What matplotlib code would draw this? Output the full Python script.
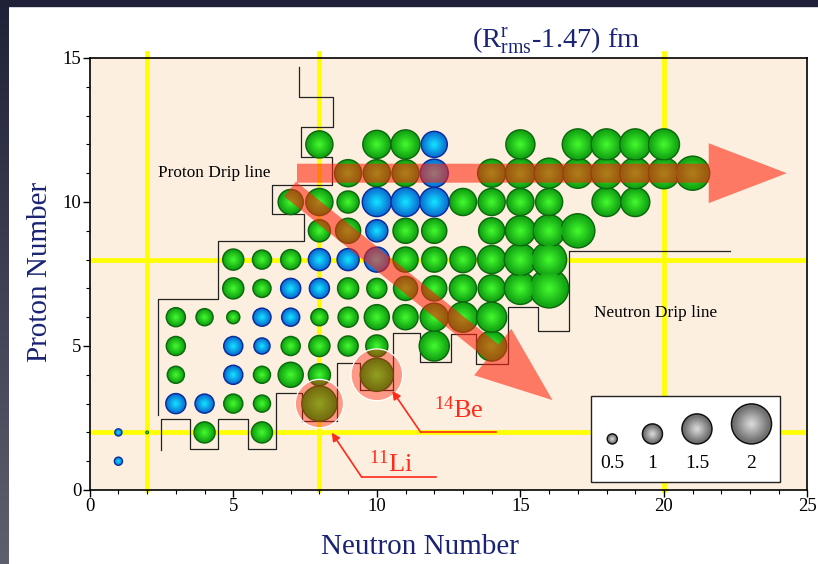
import numpy as np
import matplotlib
matplotlib.use("Agg")
import matplotlib.pyplot as plt
from matplotlib.patches import Circle, FancyArrow, Rectangle
from matplotlib.colors import to_rgb

plt.rcParams["font.family"] = ["Liberation Serif", "DejaVu Serif"]
plt.rcParams["mathtext.fontset"] = "custom"
plt.rcParams["mathtext.rm"] = "Liberation Serif"
plt.rcParams["mathtext.it"] = "Liberation Serif:italic"

# nuclei drawn in green: neutron number, proton number, (R_rms - 1.47) fm
green_n = [2, 4, 6,
           5, 6, 8,
           3, 6, 7, 8, 10,
           3, 7, 8, 9, 10, 12, 14,
           3, 4, 5, 8, 9, 10, 11, 12, 13, 14,
           5, 6, 9, 10, 11, 12, 13, 14, 15, 16,
           5, 6, 7, 11, 12, 13, 14, 15, 16,
           8, 9, 11, 12, 14, 15, 16, 17,
           7, 8, 9, 13, 14, 15, 16, 18, 19,
           9, 10, 11, 14, 15, 16, 17, 18, 19, 20, 21,
           8, 10, 11, 15, 17, 18, 19, 20]
green_z = [2, 2, 2,
           3, 3, 3,
           4, 4, 4, 4, 4,
           5, 5, 5, 5, 5, 5, 5,
           6, 6, 6, 6, 6, 6, 6, 6, 6, 6,
           7, 7, 7, 7, 7, 7, 7, 7, 7, 7,
           8, 8, 8, 8, 8, 8, 8, 8, 8,
           9, 9, 9, 9, 9, 9, 9, 9,
           10, 10, 10, 10, 10, 10, 10, 10, 10,
           11, 11, 11, 11, 11, 11, 11, 11, 11, 11, 11,
           12, 12, 12, 12, 12, 12, 12, 12]
green_r = [0.12, 1.05, 1.05,
           0.95, 0.85, 1.75,
           0.85, 0.85, 1.25, 1.1, 1.65,
           0.95, 0.95, 1.05, 1.0, 1.1, 1.5, 1.5,
           0.95, 0.85, 0.65, 0.85, 1.0, 1.25, 1.25, 1.4, 1.5, 1.5,
           1.05, 0.9, 1.05, 1.0, 1.2, 1.25, 1.35, 1.35, 1.6, 1.95,
           1.05, 0.95, 1.0, 1.25, 1.25, 1.3, 1.4, 1.6, 1.75,
           1.1, 1.25, 1.25, 1.25, 1.3, 1.5, 1.6, 1.7,
           1.25, 1.35, 1.1, 1.35, 1.35, 1.35, 1.35, 1.45, 1.45,
           1.35, 1.35, 1.35, 1.4, 1.5, 1.5, 1.5, 1.55, 1.55, 1.55, 1.7,
           1.35, 1.4, 1.45, 1.45, 1.55, 1.55, 1.55, 1.55]

# nuclei drawn in blue
blue_n = [1, 1, 3, 4, 5, 5, 6, 6, 7, 7, 8, 8, 9, 10, 10, 10, 11, 12, 12, 12]
blue_z = [1, 2, 3, 3, 4, 5, 5, 6, 6, 7, 7, 8, 8, 8, 9, 10, 10, 10, 11, 12]
blue_r = [0.4, 0.35, 1.0, 0.95, 0.95, 0.95, 0.8, 0.9, 0.9, 1.0, 1.0, 1.1, 1.1,
          1.25, 1.1, 1.45, 1.45, 1.45, 1.4, 1.3]

legend_vals = [0.5, 1, 1.5, 2]
legend_n = [18.2, 19.6, 21.15, 23.05]

# drip lines (stepped borders)
proton_drip_n = [7.3, 7.3, 8.47, 8.47, 7.35, 7.35, 8.43, 8.43, 6.35, 6.35, 7.46,
                 7.46, 4.47, 4.47, 2.38, 2.38]
proton_drip_z = [14.7, 13.65, 13.65, 12.6, 12.6, 11.55, 11.55, 10.6, 10.6, 9.58,
                 9.58, 8.65, 8.65, 6.63, 6.63, 2.6]
neutron_drip_n = [2.5, 2.5, 3.49, 3.49, 4.47, 4.47, 5.5, 5.5, 6.5, 6.5, 7.4, 7.4,
                  8.6, 8.6, 9.4, 9.4, 10.55, 10.55, 11.5, 11.5, 12.6, 12.6, 13.44,
                  13.44, 14.57, 14.57, 15.6, 15.6, 16.7, 16.7, 22.3]
neutron_drip_z = [1.39, 2.47, 2.47, 1.42, 1.42, 2.47, 2.47, 1.42, 1.42, 3.37, 3.37,
                  2.4, 2.4, 4.4, 4.4, 3.47, 3.47, 5.45, 5.45, 4.43, 4.43, 5.42,
                  5.42, 4.38, 4.38, 6.37, 6.37, 5.53, 5.53, 8.3, 8.3]

magic = [2, 8, 20]

PX = 20 * 0.72  # bubble diameter in points per fm


def bubbles(ax, n, z, v, edge, rim, core, zorder):
    d = PX * np.asarray(v, dtype=float)
    rim = np.array(to_rgb(rim))
    core = np.array(to_rgb(core))
    ax.scatter(n, z, s=d ** 2, color=rim, edgecolors=edge, linewidths=1.1,
               zorder=zorder)
    steps = 9
    for k, f in enumerate(np.linspace(0.82, 0.12, steps)):
        t = (k + 1) / steps
        col = (1 - t) * rim + t * core
        ax.scatter(n, z, s=(d * f) ** 2, color=col, edgecolors="none",
                   zorder=zorder + 0.01 * (k + 1))


fig = plt.figure(figsize=(8.18, 5.64), dpi=100, facecolor="white")

# dark slide frame
strip = fig.add_axes([0, 0, 9 / 818, 1])
grad = np.linspace(0, 1, 256).reshape(-1, 1)
strip.imshow(grad, aspect="auto", cmap=matplotlib.colors.LinearSegmentedColormap.from_list(
    "frame", ["#1f2138", "#5e5f6e"]), extent=[0, 1, 0, 1], origin="upper")
strip.axis("off")
fig.patches.append(Rectangle((0, 1 - 6 / 564), 1, 6 / 564, transform=fig.transFigure,
                             color="#1f2138", zorder=10))

ax = fig.add_axes([89.7 / 818, 1 - 490 / 564, 717.8 / 818, 432 / 564])
ax.set_facecolor("#fcefdf")
ax.set_xlim(0, 25)
ax.set_ylim(0, 15)

for m in magic:
    ax.axvline(m, ymin=0, ymax=1.012, color="#ffff00", lw=3.4, zorder=1, clip_on=False)
for m in magic[:2]:
    ax.axhline(m, color="#ffff00", lw=3.4, zorder=1)

ax.plot(proton_drip_n, proton_drip_z, color="#222222", lw=0.9, zorder=2)
ax.plot(neutron_drip_n, neutron_drip_z, color="#222222", lw=0.9, zorder=2)

bubbles(ax, green_n, green_z, green_r, "#0b6a0b", "#14a814", "#40f42c", 3)
bubbles(ax, blue_n, blue_z, blue_r, "#0a2c9c", "#0a78d6", "#12dcff", 3)

# trend arrows
red = "#ff240c"
ax.add_patch(FancyArrow(7.22, 11, 17.06, 0, width=0.66, head_width=2.08,
                        head_length=2.72, length_includes_head=True,
                        color=red, alpha=0.58, lw=0, zorder=5))
ax.add_patch(FancyArrow(6.98, 10.45, 9.14, -7.33, width=0.66, head_width=2.07,
                        head_length=2.67, length_includes_head=True,
                        color=red, alpha=0.58, lw=0, zorder=5))

# halo nuclei
ax.add_patch(Circle((8, 3), 0.84, facecolor=red, alpha=0.42, edgecolor="none", zorder=6))
ax.add_patch(Circle((8, 3), 0.84, facecolor="none", edgecolor="white", lw=0.9, zorder=6))
ax.add_patch(Circle((10, 4), 0.9, facecolor=red, alpha=0.42, edgecolor="none", zorder=6))
ax.add_patch(Circle((10, 4), 0.9, facecolor="none", edgecolor="white", lw=0.9, zorder=6))

ann = "#ff2a1a"
ax.plot([11.53, 14.14], [2.0, 2.0], color=ann, lw=1.2, zorder=7)
ax.annotate("", xy=(10.54, 3.44), xytext=(11.53, 2.0),
            arrowprops=dict(arrowstyle="-|>", color=ann, lw=1.2, mutation_scale=12,
                            shrinkA=0, shrinkB=0), zorder=7)
ax.text(12.86, 2.78, r"$^{14}$Be", color=ann, fontsize=19, ha="center", va="center",
        zorder=7)
ax.plot([9.47, 12.06], [0.45, 0.45], color=ann, lw=1.2, zorder=7)
ax.annotate("", xy=(8.43, 1.99), xytext=(9.47, 0.45),
            arrowprops=dict(arrowstyle="-|>", color=ann, lw=1.2, mutation_scale=12,
                            shrinkA=0, shrinkB=0), zorder=7)
ax.text(10.5, 0.92, r"$^{11}$Li", color=ann, fontsize=19, ha="center", va="center",
        zorder=7)

ax.text(2.38, 11.0, "Proton Drip line", fontsize=12.4, ha="left", va="center", zorder=7)
ax.text(17.57, 6.15, "Neutron Drip line", fontsize=12.4, ha="left", va="center", zorder=7)

# size legend
ax.add_patch(Rectangle((17.45, 0.28), 6.59, 2.98, facecolor="white",
                       edgecolor="#222222", lw=1.0, zorder=8))
legend_z = [1.6 + 10 * v / 28.8 for v in legend_vals]
bubbles(ax, legend_n, legend_z, legend_vals, "#111111", "#707070", "#d4d4d4", 9)
for x, v in zip(legend_n, legend_vals):
    ax.text(x, 0.93, f"{v:g}", fontsize=14, ha="center", va="center", zorder=9)

ax.set_xticks(range(0, 26, 5))
ax.set_xticks(range(0, 26), minor=True)
ax.set_yticks(range(0, 16, 5))
ax.set_yticks(range(0, 16), minor=True)
ax.tick_params(which="major", direction="out", length=5, width=1, labelsize=13.5, pad=1)
ax.tick_params(which="minor", direction="out", length=3, width=0.8)
for s in ax.spines.values():
    s.set_linewidth(1.2)
    s.set_zorder(10)

navy = "#1b2474"
fig.text(556 / 818, 1 - 41 / 564, r"(R$^{\mathrm{r}}_{\mathrm{rms}}$-1.47) fm",
         color=navy, fontsize=20.5, ha="center", va="center")
fig.text(420 / 818, 1 - 547 / 564, "Neutron Number", color=navy, fontsize=21,
         ha="center", va="center")
fig.text(40 / 818, 1 - 272 / 564, "Proton Number", color=navy, fontsize=21,
         ha="center", va="center", rotation=90)

fig.savefig("out.png", dpi=100, facecolor="white")
